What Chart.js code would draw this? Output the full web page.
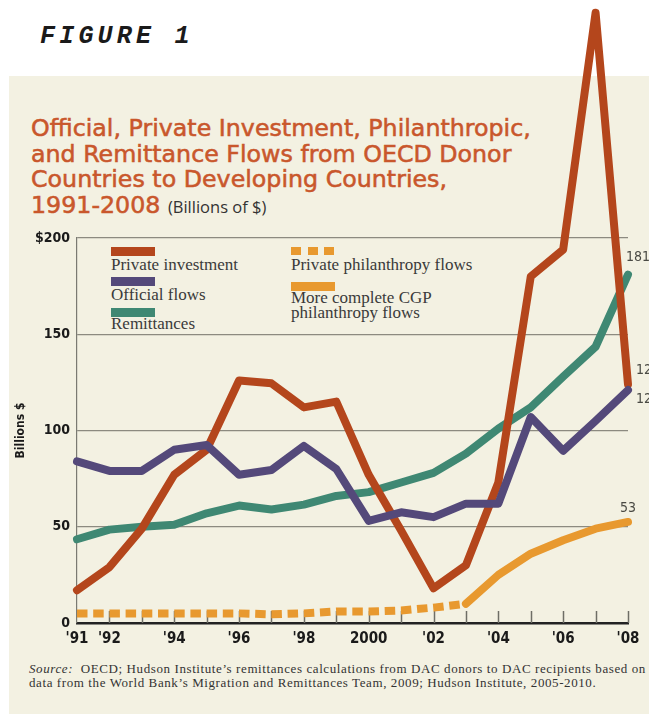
<!DOCTYPE html>
<html>
<head>
<meta charset="utf-8">
<script src="https://cdn.jsdelivr.net/npm/chart.js@4.4.1/dist/chart.umd.min.js"></script>
<style>
  html, body { margin: 0; padding: 0; background: #fff; }
  body { width: 649px; height: 715px; position: relative; overflow: hidden; }
  #panel { position: absolute; left: 9px; top: 76px; width: 640px; height: 638px; background: #f3f1e2; }
  #fig {
    position: absolute; left: 40px; top: 24px; font: italic bold 25px/25px "Liberation Mono", monospace;
    letter-spacing: 4.2px; color: #1a1a1a;
  }
  #title {
    position: absolute; left: 31px; top: 116px; font: 400 19px/25.5px "DejaVu Sans", sans-serif;
    color: #c9572c; white-space: nowrap; -webkit-text-stroke: 0.55px #c9572c;
  }
  #title .sub { font-size: 16.5px; color: #333; -webkit-text-stroke: 0; font-family: "Open Sans", sans-serif; }
  .lg { position: absolute; font: 17px/16px "Liberation Serif", serif; color: #3a3a3a; white-space: nowrap; }
  .sw { position: absolute; height: 9px; }
  #source {
    position: absolute; left: 29px; top: 662px; font: 13px/13.5px "Liberation Serif", serif;
    color: #333; white-space: nowrap;
  }
  #chart { position: absolute; left: 0; top: 0; }
</style>
</head>
<body>
<div id="panel"></div>
<div id="fig">FIGURE 1</div>
<div id="title"><span class="l1">Official, Private Investment, Philanthropic,</span><br>and Remittance Flows from OECD Donor<br>Countries to Developing Countries,<br>1991-2008 <span class="sub">(Billions of $)</span></div>
<div id="legend"></div>
<div id="source"><span class="l1"><i>Source:</i>&nbsp; OECD; Hudson Institute’s remittances calculations from DAC donors to DAC recipients based on</span><br>data from the World Bank’s Migration and Remittances Team, 2009; Hudson Institute, 2005-2010.</div>
<canvas id="chart" width="649" height="715"></canvas>
<script>
// data (billions of $)
const years = ['1991', '1992', '1993', '1994', '1995', '1996', '1997', '1998', '1999',
               '2000', '2001', '2002', '2003', '2004', '2005', '2006', '2007', '2008'];
const xTickLabels = ["'91", "'92", '', "'94", '', "'96", '', "'98", '', '2000',
                     '', "'02", '', "'04", '', "'06", '', "'08"];
const yTopLabel = '$200';

const privateInvestment = [17, 29, 49, 77, 90, 126, 124.5, 112, 115, 77, 48, 18, 30, 73, 180, 194, 317, 124];
const officialFlows     = [84, 79, 79, 90, 92.5, 77, 79.5, 92, 80, 53, 57.5, 55, 62, 62, 107, 89.5, 105, 121];
const remittances       = [43.5, 48.5, 50, 51, 57, 61, 59, 61.5, 66, 68, 73, 78, 88, 101, 112, 128, 143.5, 181];
const privatePhilanthropy = [5, 5, 5, 5, 5, 5, 4.5, 5, 6, 6, 6.5, 8, 10, null, null, null, null, null];
const cgpPhilanthropy   = [null, null, null, null, null, null, null, null, null, null, null, null,
                           10, 25, 36, 43, 49, 52.5];

const endLabels = ['121', '124', '181', null, '53'];

const RED = '#b4461c', PURPLE = '#54497a', GREEN = '#3f8873', ORANGE = '#e8992f';

// make the first line of a text block span a given width
function fitLetterSpacing(el, target) {
  const first = el.querySelector('.l1');
  const w = first.getBoundingClientRect().width;
  const n = first.textContent.length;
  el.style.letterSpacing = ((target - w) / n).toFixed(3) + 'px';
}
function fitFontSize(el, target) {
  const first = el.querySelector('.l1');
  const w = first.getBoundingClientRect().width;
  const fs = parseFloat(getComputedStyle(el).fontSize);
  el.style.fontSize = (fs * target / w).toFixed(2) + 'px';
}
fitFontSize(document.getElementById('title'), 500);
fitLetterSpacing(document.getElementById('source'), 617);

// ── legend (swatch above text, two columns) ──
const legendItems = [
  { text: 'Private investment', color: RED, x: 111, sy: 247, ty: 257 },
  { text: 'Official flows', color: PURPLE, x: 111, sy: 277, ty: 287 },
  { text: 'Remittances', color: GREEN, x: 111, sy: 307.5, ty: 316 },
  { text: 'Private philanthropy flows', color: ORANGE, x: 291, sy: 247, ty: 257, dashed: true },
  { text: 'More complete CGP<br>philanthropy flows', color: ORANGE, x: 291, sy: 282, ty: 290, lh: 15 },
];
const legend = document.getElementById('legend');
legendItems.forEach(it => {
  if (it.dashed) {
    for (let k = 0; k < 3; k++) {
      const d = document.createElement('div');
      d.className = 'sw';
      d.style.cssText = `left:${it.x + k * 16.5}px;top:${it.sy}px;width:10px;height:8px;background:${it.color}`;
      legend.appendChild(d);
    }
  } else {
    const d = document.createElement('div');
    d.className = 'sw';
    d.style.cssText = `left:${it.x}px;top:${it.sy}px;width:44px;background:${it.color}`;
    legend.appendChild(d);
  }
  const t = document.createElement('div');
  t.className = 'lg';
  t.style.left = it.x + 'px';
  t.style.top = it.ty + 'px';
  if (it.lh) t.style.lineHeight = it.lh + 'px';
  t.innerHTML = it.text;
  legend.appendChild(t);
});

// ── plugin: inward tick marks + end-value labels ──
const extras = {
  id: 'extras',
  beforeDatasetsDraw(chart) {
    const { ctx, scales: { x }, chartArea } = chart;
    ctx.save();
    ctx.strokeStyle = '#6e6e66';
    ctx.lineWidth = 1.5;
    for (let i = 1; i < years.length; i++) {
      const px = Math.round(x.getPixelForValue(i)) + 0.5;
      ctx.beginPath();
      ctx.moveTo(px, chartArea.bottom);
      ctx.lineTo(px, chartArea.bottom - 12);
      ctx.stroke();
    }
    ctx.restore();
  },
  afterDatasetsDraw(chart) {
    const { ctx } = chart;
    const offs = [
      { dx: 8, dy: 9, align: 'left' },
      { dx: 8, dy: -14, align: 'left' },
      { dx: -2, dy: -17, align: 'left' },
      null,
      { dx: 0, dy: -14, align: 'center' },
    ];
    ctx.save();
    ctx.font = '14px "DejaVu Sans Condensed", sans-serif';
    ctx.fillStyle = '#4a4a44';
    ctx.textBaseline = 'middle';
    endLabels.forEach((lab, i) => {
      if (!lab) return;
      const pts = chart.getDatasetMeta(i).data;
      const p = pts[pts.length - 1];
      ctx.textAlign = offs[i].align;
      ctx.fillText(lab, p.x + offs[i].dx, p.y + offs[i].dy);
    });
    ctx.restore();
  }
};

const lineDefaults = {
  borderWidth: 8,
  pointRadius: 0,
  tension: 0,
  fill: false,
  clip: false,
  borderJoinStyle: 'round',
  borderCapStyle: 'round',
};

new Chart(document.getElementById('chart'), {
  type: 'line',
  data: {
    labels: years,
    datasets: [
      { ...lineDefaults, label: 'Official flows', data: officialFlows, borderColor: PURPLE },
      { ...lineDefaults, label: 'Private investment', data: privateInvestment, borderColor: RED },
      { ...lineDefaults, label: 'Remittances', data: remittances, borderColor: GREEN },
      { ...lineDefaults, label: 'Private philanthropy flows', data: privatePhilanthropy, borderColor: ORANGE,
        borderDash: [10.5, 5.7], borderCapStyle: 'butt', borderJoinStyle: 'miter' },
      { ...lineDefaults, label: 'More complete CGP philanthropy flows', data: cgpPhilanthropy, borderColor: ORANGE },
    ],
  },
  options: {
    responsive: false,
    animation: false,
    layout: { padding: { top: 238, right: 21, bottom: 0, left: 0 } },
    plugins: { legend: { display: false }, tooltip: { enabled: false } },
    scales: {
      x: {
        offset: false,
        afterFit: s => { s.height = 92; },
        grid: { display: false, drawTicks: false },
        border: { display: true, color: '#222', width: 2.5 },
        ticks: {
          autoSkip: false, maxRotation: 0, padding: 7, color: '#1a1a1a',
          font: { family: '"DejaVu Sans Condensed", sans-serif', size: 15, weight: 'bold' },
          callback: (v, i) => xTickLabels[i],
        },
      },
      y: {
        min: 0, max: 200,
        afterFit: s => { s.width = 77; },
        grid: {
          drawTicks: false, lineWidth: 1.2,
          color: c => c.tick.value === 0 ? 'rgba(0,0,0,0)' : '#8c8a80',
        },
        border: { display: true, color: '#7a7a72', width: 1.2 },
        ticks: {
          stepSize: 50, padding: 7, color: '#1a1a1a',
          font: { family: '"DejaVu Sans Condensed", sans-serif', size: 14, weight: 'bold' },
          callback: v => v === 200 ? yTopLabel : v,
        },
        title: {
          display: true, text: 'Billions $', color: '#1a1a1a', padding: { top: 14 },
          font: { family: '"DejaVu Sans Condensed", sans-serif', size: 12, weight: 'bold' },
        },
      },
    },
  },
  plugins: [extras],
});
</script>
</body>
</html>
